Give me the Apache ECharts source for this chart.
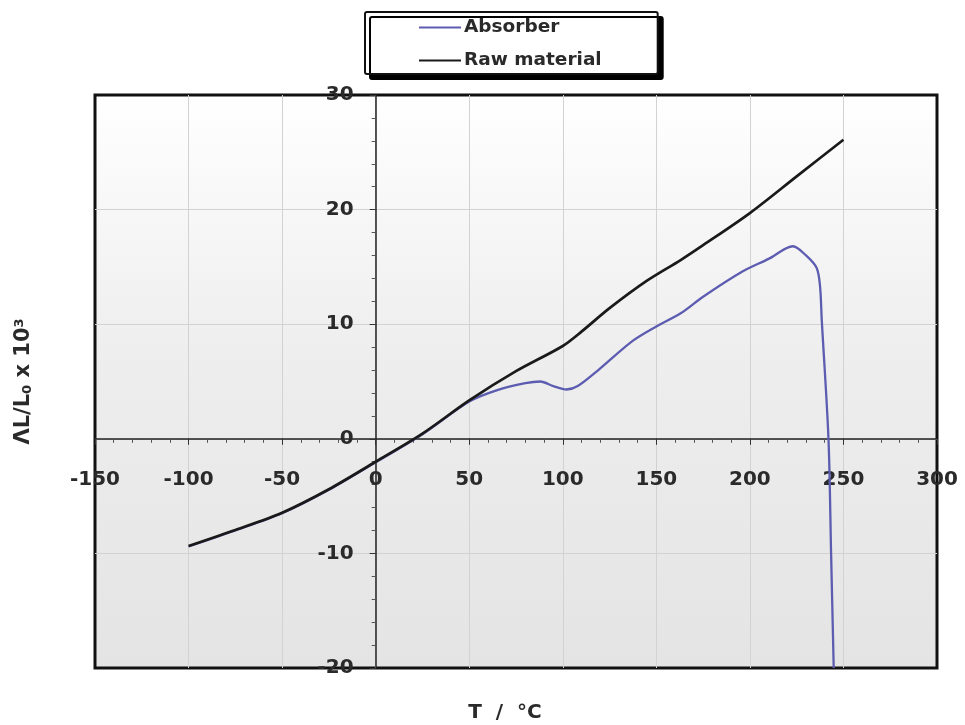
<!DOCTYPE html>
<html>
<head>
<meta charset="utf-8">
<script src="https://cdn.jsdelivr.net/npm/echarts@6/dist/echarts.min.js"></script>
<style>
  html, body { margin: 0; padding: 0; background: #ffffff; }
  #chart { width: 965px; height: 725px; }
</style>
</head>
<body>
<div id="chart"></div>
<script>
// Thermal expansion curves: temperature (°C) vs. ΔL/L0 (x 10^3)
const seriesNames = ['Absorber', 'Raw material'];

const absorberT = [-100, -75, -50, -25, 0, 25, 50, 65, 80, 88, 95, 102, 108, 119, 137, 150, 163, 175, 196, 210, 223, 230, 235.7, 237.5, 238.4, 242, 243.4, 244.8];
const absorberV = [-9.4, -8.0, -6.5, -4.45, -2.05, 0.4, 3.25, 4.25, 4.85, 5.0, 4.6, 4.3, 4.6, 6.0, 8.5, 9.8, 10.95, 12.4, 14.6, 15.7, 16.8, 16.0, 14.9, 13.3, 10.4, 0, -10, -20];

const rawT = [-100, -75, -50, -25, 0, 25, 50, 75, 100, 110, 125, 145, 163, 175, 200, 225, 250];
const rawV = [-9.35, -7.95, -6.45, -4.4, -2.0, 0.45, 3.35, 5.9, 8.1, 9.35, 11.4, 13.8, 15.6, 16.9, 19.7, 22.9, 26.1];

const xTicks = { min: -150, max: 300, step: 50 };
const yTicks = { min: -20, max: 30, step: 10 };

const pairs = (xs, ys) => xs.map((x, i) => [x, ys[i]]);

// plot box in pixels
const box = { left: 95, right: 28, top: 95, bottom: 57, w: 965, h: 725 };
const plotW = box.w - box.left - box.right;
const plotH = box.h - box.top - box.bottom;
// shift each axis from the frame edge to the zero line of the other axis
const xAxisShift = -plotH * (0 - yTicks.min) / (yTicks.max - yTicks.min);
const yAxisShift = -plotW * (0 - xTicks.min) / (xTicks.max - xTicks.min);

const labelFont = {
  fontFamily: 'DejaVu Sans, sans-serif',
  fontWeight: 'bold',
  color: '#2a2a2a'
};

const chart = echarts.init(document.getElementById('chart'), null, { renderer: 'canvas' });

chart.setOption({
  animation: false,
  backgroundColor: '#ffffff',
  grid: {
    left: box.left, right: box.right, top: box.top, bottom: box.bottom,
    outerBoundsMode: 'none',
    containLabel: false,
    show: true,
    borderColor: '#111111',
    borderWidth: 3,
    backgroundColor: {
      type: 'linear', x: 0, y: 0, x2: 0, y2: 1,
      colorStops: [
        { offset: 0, color: '#ffffff' },
        { offset: 0.45, color: '#eeeeee' },
        { offset: 1, color: '#e4e4e4' }
      ]
    }
  },
  legend: {
    data: seriesNames.map(n => ({ name: n, icon: 'path://M0,6 L40,6 L40,8 L0,8 Z' })),
    orient: 'vertical',
    left: 365, top: 12,
    padding: [6, 56, 4, 54],
    itemWidth: 42, itemHeight: 14, itemGap: 14,
    backgroundColor: '#ffffff',
    borderColor: '#111111', borderWidth: 2, borderRadius: 2,
    shadowColor: '#000000', shadowBlur: 0, shadowOffsetX: 5, shadowOffsetY: 5,
    textStyle: Object.assign({ fontSize: 18.5, padding: [0, 0, 0, -2] }, labelFont)
  },
  xAxis: {
    type: 'value',
    min: xTicks.min, max: xTicks.max, interval: xTicks.step,
    offset: xAxisShift,
    name: 'T  /  °C',
    nameLocation: 'middle',
    nameGap: 264,
    nameTextStyle: Object.assign({ fontSize: 20, padding: [0, 22, 0, 0] }, labelFont),
    axisLine: { onZero: false, lineStyle: { color: '#222222', width: 1.5 } },
    axisTick: { show: true, length: 6, lineStyle: { color: '#333333' } },
    minorTick: { show: true, splitNumber: 5, length: 4, lineStyle: { color: '#555555' } },
    axisLabel: Object.assign({ fontSize: 20, margin: 31 }, labelFont),
    splitLine: { show: true, showMinLine: false, showMaxLine: false, lineStyle: { color: '#d2d2d2', width: 1 } }
  },
  yAxis: {
    type: 'value',
    min: yTicks.min, max: yTicks.max, interval: yTicks.step,
    offset: yAxisShift,
    name: '{n|ΛL/L}{s|0}{n| x 10}{p|3}',
    nameLocation: 'middle',
    nameGap: 342,
    nameTextStyle: {
      rich: {
        n: Object.assign({ fontSize: 21 }, labelFont),
        s: Object.assign({ fontSize: 13, verticalAlign: 'bottom', padding: [8, 0, 0, 0] }, labelFont),
        p: Object.assign({ fontSize: 13, verticalAlign: 'top', padding: [0, 0, 8, 0] }, labelFont)
      }
    },
    axisLine: { onZero: false, lineStyle: { color: '#222222', width: 1.5 } },
    axisTick: { show: true, length: 6, lineStyle: { color: '#333333' } },
    minorTick: { show: true, splitNumber: 5, length: 4, lineStyle: { color: '#555555' } },
    axisLabel: Object.assign({ fontSize: 20, margin: 22 }, labelFont),
    splitLine: { show: true, showMinLine: false, showMaxLine: false, lineStyle: { color: '#d2d2d2', width: 1 } }
  },
  series: [
    {
      name: seriesNames[0],
      type: 'line',
      data: pairs(absorberT, absorberV),
      symbol: 'none',
      smooth: 0.3,
      lineStyle: { color: '#5c5cb0', width: 2.3 },
      itemStyle: { color: '#5c5cb0' },
      z: 3
    },
    {
      name: seriesNames[1],
      type: 'line',
      data: pairs(rawT, rawV),
      symbol: 'none',
      smooth: 0.3,
      lineStyle: { color: '#1a1a1a', width: 2.7 },
      itemStyle: { color: '#1a1a1a' },
      z: 4
    }
  ]
});
</script>
</body>
</html>
